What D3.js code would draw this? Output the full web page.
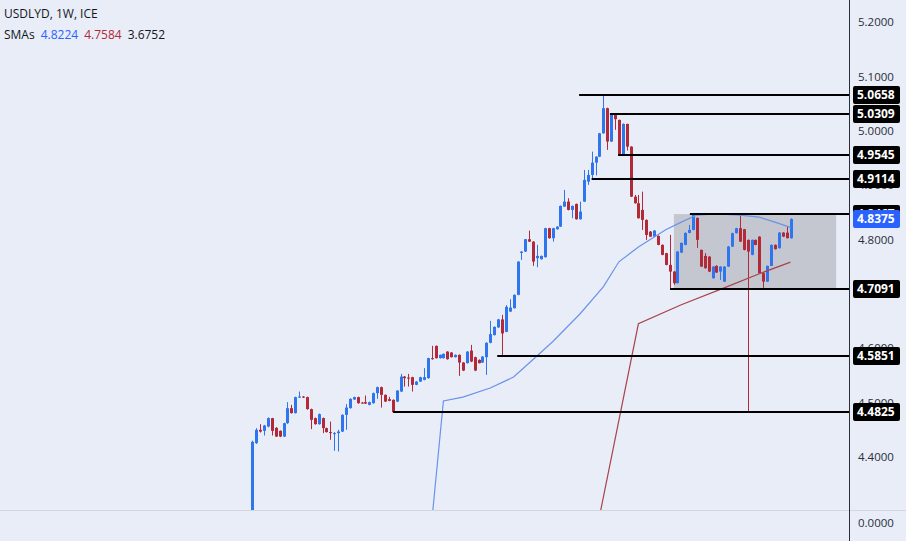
<!DOCTYPE html>
<html><head><meta charset="utf-8">
<script src="https://cdn.jsdelivr.net/npm/d3@7"></script>
<style>
html,body{margin:0;padding:0;background:#e9edf8;}
svg{display:block;}
text{font-family:"Open Sans","Noto Sans",sans-serif;}
</style></head><body>
<svg id="chart" width="906" height="541"></svg>
<script>
// ---- data (weekly USDLYD candles) ----
const opens = [4.25,4.4255,4.4500,4.4481,4.4560,4.4715,4.4536,4.4481,4.4376,4.4622,
4.4898,4.4807,4.5093,4.5112,4.5101,4.4880,4.4715,4.4604,4.4715,4.4531,
4.4458,4.4421,4.4439,4.4468,4.4775,4.4898,4.5057,4.5101,4.5001,4.5009,
4.4959,4.4990,4.5174,4.5284,4.5143,4.5064,4.5051,4.5020,4.5204,4.5479,
4.5461,4.5468,4.5327,4.5387,4.5419,4.5450,4.5818,4.6044,4.5818,4.5818,
4.5939,4.5921,4.5836,4.5879,4.5737,4.5726,4.5957,4.5836,4.5786,4.5737,
4.5836,4.6100,4.6242,4.6383,4.6530,4.6302,4.6675,4.6737,4.6982,4.7754,
4.7778,4.8005,4.7961,4.7656,4.7638,4.7675,4.8208,4.8024,4.8189,4.8237,
4.8605,4.8697,4.8544,4.8654,4.8373,4.8697,4.9064,4.9188,4.9414,4.9524,
4.9953,5.0415,4.9801,5.0309,5.0199,4.9545,5.0125,4.9708,4.8788,4.8667,
4.8544,4.8360,4.8145,4.8053,4.8066,4.7901,4.7748,4.7533,4.7410,4.7197,
4.7759,4.7901,4.8121,4.8176,4.8397,4.7809,4.7698,4.7685,4.7288,4.7515,
4.7410,4.7226,4.7502,4.7870,4.8116,4.8208,4.8189,4.7993,4.7717,4.7993,
4.8053,4.7380,4.7226,4.7515,4.7901,4.7840,4.8127,4.8127,4.8024];
const highs = [4.4300,4.4531,4.4604,4.4590,4.4730,4.4720,4.4550,4.4490,4.4630,4.5009,
4.4959,4.5110,4.5204,4.5120,4.5110,4.4890,4.4725,4.4800,4.4725,4.4540,
4.4652,4.4460,4.4500,4.4785,4.4972,4.5080,4.5110,4.5110,4.5010,4.5130,
4.5020,4.5185,4.5295,4.5295,4.5150,4.5106,4.5060,4.5230,4.5529,4.5490,
4.5529,4.5475,4.5395,4.5475,4.5634,4.5825,4.6044,4.6050,4.5885,4.5905,
4.5945,4.5930,4.5885,4.5885,4.5745,4.5945,4.6062,4.5845,4.5795,4.5855,
4.6110,4.6504,4.6400,4.6540,4.6614,4.6793,4.6902,4.6990,4.7600,4.7785,
4.8010,4.8163,4.7970,4.7901,4.7705,4.8215,4.8215,4.8215,4.8245,4.8625,
4.8912,4.8759,4.8625,4.8662,4.8697,4.9279,4.9279,4.9616,4.9530,4.9960,
5.0658,5.0425,5.0309,5.0315,5.0205,5.0135,5.0130,4.9715,4.8820,4.8820,
4.8880,4.8370,4.8155,4.8175,4.8075,4.7910,4.7755,4.8084,4.7420,4.7785,
4.7945,4.8130,4.8268,4.8470,4.8405,4.7815,4.7750,4.7695,4.7510,4.7525,
4.7510,4.7510,4.7880,4.8125,4.8215,4.8470,4.8195,4.8000,4.8000,4.8000,
4.8060,4.7390,4.7520,4.7910,4.7910,4.8135,4.8135,4.8250,4.8390];
const lows = [4.2500,4.4240,4.4450,4.4395,4.4545,4.4395,4.4370,4.4365,4.4370,4.4610,
4.4800,4.4800,4.5085,4.5085,4.4870,4.4512,4.4595,4.4595,4.4439,4.4450,
4.4316,4.4114,4.4101,4.4460,4.4500,4.4890,4.5050,4.4980,4.4980,4.4975,
4.4950,4.4980,4.5069,4.4909,4.5010,4.5025,4.4825,4.5010,4.5195,4.5295,
4.5295,4.5204,4.5320,4.5380,4.5410,4.5440,4.5790,4.5810,4.5810,4.5810,
4.5790,4.5830,4.5830,4.5492,4.5580,4.5720,4.5745,4.5580,4.5720,4.5730,
4.5511,4.6090,4.6235,4.6375,4.5851,4.6295,4.6665,4.6730,4.6975,4.7625,
4.7770,4.7955,4.7515,4.7491,4.7630,4.7668,4.8015,4.7961,4.8180,4.8230,
4.8598,4.8535,4.8391,4.8365,4.8365,4.8690,4.9004,4.9114,4.9180,4.9515,
4.9945,4.9648,4.9795,5.0017,4.9545,4.9540,4.9635,4.8780,4.8660,4.8385,
4.8176,4.7993,4.8045,4.8045,4.7895,4.7710,4.7525,4.7091,4.7166,4.7190,
4.7750,4.7895,4.8115,4.8170,4.7846,4.7495,4.7465,4.7400,4.7280,4.7385,
4.7257,4.7220,4.7495,4.7860,4.8110,4.7955,4.7800,4.4825,4.7710,4.7895,
4.7375,4.7110,4.7220,4.7510,4.7815,4.7835,4.8045,4.8020,4.8015];
const closes = [4.4280,4.4500,4.4468,4.4579,4.4715,4.4481,4.4376,4.4376,4.4622,4.4898,
4.4807,4.5101,4.5112,4.5093,4.4880,4.4683,4.4604,4.4788,4.4531,4.4458,
4.4439,4.4439,4.4468,4.4775,4.4909,4.5069,4.5101,4.4990,4.4990,4.4983,
4.5009,4.5174,4.5284,4.5143,4.5020,4.5033,4.4825,4.5222,4.5479,4.5450,
4.5442,4.5327,4.5387,4.5468,4.5468,4.5818,4.5799,4.5818,4.5879,4.5897,
4.5799,4.5836,4.5879,4.5737,4.5590,4.5939,4.5755,4.5590,4.5726,4.5847,
4.6100,4.6260,4.6394,4.6530,4.6273,4.6762,4.6748,4.6982,4.7594,4.7778,
4.8005,4.7961,4.7594,4.7698,4.7698,4.8208,4.8024,4.8208,4.8237,4.8618,
4.8697,4.8544,4.8618,4.8373,4.8513,4.9096,4.9188,4.9414,4.9524,4.9953,
5.0415,4.9801,5.0300,5.0213,4.9545,5.0125,4.9708,4.8788,4.8667,4.8391,
4.8360,4.8084,4.8053,4.8164,4.7901,4.7717,4.7533,4.7410,4.7197,4.7778,
4.7938,4.8121,4.8176,4.8452,4.7993,4.7502,4.7472,4.7410,4.7502,4.7392,
4.7502,4.7502,4.7870,4.8116,4.8208,4.7961,4.7809,4.7778,4.7993,4.7901,
4.7380,4.7226,4.7515,4.7901,4.7822,4.8127,4.8053,4.8024,4.8375];

// SMA lines (candle index, value)
const smaFastIdx = [46,49,54,61,67,71,77,84,90,94,99,106,110,114,119,125,130,134,138];
const smaFastVal = [4.280,4.503,4.510,4.527,4.547,4.573,4.612,4.663,4.713,4.759,4.786,4.818,4.832,4.845,4.847,4.845,4.841,4.832,4.8224];
const smaSlowIdx = [89,99,110,121,130,138];
const smaSlowVal = [4.290,4.645,4.680,4.711,4.737,4.7584];

// horizontal levels drawn on the chart
const levelValues = [5.0658,5.0309,4.9545,4.9114,4.8467,4.7091,4.5851,4.4825];
const levelLabels = ["5.0658","5.0309","4.9545","4.9114","4.8467","4.7091","4.5851","4.4825"];
const levelStart  = [83.8,91.7,93.8,87.0,112.2,107.1,62.8,36.1];
const boxIdx = [108.1,149.7];
const boxVals = [4.8467,4.7091];

const yTicks = [4.4,4.5,4.6,4.7,4.8,4.9,5.0,5.1,5.2];
const lowerPaneTicks = [0];
const lastPrice = 4.8375;
const titleText = "USDLYD, 1W, ICE";
const smaLegend = ["4.8224","4.7584","3.6752"];

// ---- drawing ----
const W = 906, H = 541, plotR = 849, plotB = 510;
const BLUE = "#2f76ee", RED = "#b22a38";
const svg = d3.select("#chart");
const x = d3.scaleLinear().domain([0, closes.length - 1]).range([252.3, 790.5]);
const y = d3.scaleLinear().domain([4.4, 5.2]).range([457, 22]);

svg.append("rect").attr("width", W).attr("height", H).attr("fill", "#e9edf8");

svg.append("defs").append("clipPath").attr("id", "clip")
  .append("rect").attr("x", 0).attr("y", 0).attr("width", plotR).attr("height", plotB);

const plot = svg.append("g").attr("clip-path", "url(#clip)");

// box
plot.append("rect")
  .attr("x", x(boxIdx[0])).attr("width", x(boxIdx[1]) - x(boxIdx[0]))
  .attr("y", y(boxVals[0])).attr("height", y(boxVals[1]) - y(boxVals[0]))
  .attr("fill", "#c4c7cf");

// candles
const idx = d3.range(closes.length);
const cg = plot.append("g");
idx.forEach(i => {
  const up = closes[i] >= opens[i];
  const col = up ? BLUE : RED;
  const cx = Math.round(x(i));
  cg.append("line")
    .attr("x1", cx + 0.5).attr("x2", cx + 0.5)
    .attr("y1", y(highs[i])).attr("y2", y(lows[i]))
    .attr("stroke", col).attr("stroke-width", 1);
  const top = y(Math.max(opens[i], closes[i]));
  const bot = y(Math.min(opens[i], closes[i]));
  cg.append("rect")
    .attr("x", cx - 1).attr("width", 3)
    .attr("y", top).attr("height", Math.max(1, bot - top))
    .attr("fill", col);
});

// SMAs
const line = d3.line().x(d => x(d[0])).y(d => y(d[1]));
plot.append("path").datum(d3.zip(smaFastIdx, smaFastVal))
  .attr("d", line).attr("fill", "none").attr("stroke", "#6a93ea").attr("stroke-width", 1.2);
plot.append("path").datum(d3.zip(smaSlowIdx, smaSlowVal))
  .attr("d", line).attr("fill", "none").attr("stroke", "#a8434d").attr("stroke-width", 1.2);

// level lines
levelValues.forEach((v, k) => {
  const yy = Math.round(y(v));
  plot.append("line")
    .attr("x1", x(levelStart[k])).attr("x2", plotR)
    .attr("y1", yy).attr("y2", yy)
    .attr("stroke", "#000").attr("stroke-width", 2.2);
});

// separator for lower pane
svg.append("line").attr("x1", 0).attr("x2", W).attr("y1", plotB + 0.5).attr("y2", plotB + 0.5)
  .attr("stroke", "#d3d6de").attr("stroke-width", 1);

// price axis
const axisG = svg.append("g").attr("transform", `translate(${plotR},0)`)
  .call(d3.axisRight(y).tickValues(yTicks).tickFormat(d3.format(".4f")).tickSize(0).tickPadding(9));
axisG.select(".domain").remove();
axisG.selectAll("text").attr("fill", "#2a2e39").style("font-size", "11.5px")
  .style("font-family", '"Open Sans","Noto Sans",sans-serif');

const yLow = d3.scaleLinear().domain([0, 1]).range([523, 512]);
const axisLow = svg.append("g").attr("transform", `translate(${plotR},0)`)
  .call(d3.axisRight(yLow).tickValues(lowerPaneTicks).tickFormat(d3.format(".4f")).tickSize(0).tickPadding(9));
axisLow.select(".domain").remove();
axisLow.selectAll("text").attr("fill", "#2a2e39").style("font-size", "11.5px")
  .style("font-family", '"Open Sans","Noto Sans",sans-serif');

svg.append("line").attr("x1", plotR + 0.5).attr("x2", plotR + 0.5).attr("y1", 0).attr("y2", H)
  .attr("stroke", "#2a2e39").attr("stroke-width", 1);

// price labels
function priceLabel(v, txt, fill) {
  const yy = Math.round(y(v));
  svg.append("rect").attr("x", 853).attr("y", yy - 9).attr("width", 47).attr("height", 18)
    .attr("rx", 2).attr("fill", fill);
  svg.append("text").attr("x", 857).attr("y", yy).attr("dy", "0.36em")
    .attr("fill", "#fff").style("font-size", "12px").style("font-weight", "bold").text(txt);
}
levelValues.forEach((v, k) => priceLabel(v, levelLabels[k], "#000"));
priceLabel(lastPrice, d3.format(".4f")(lastPrice), "#2962ff");

// legend
svg.append("text").attr("x", 4).attr("y", 18).attr("fill", "#131722")
  .style("font-size", "12px").text(titleText);
const lg = svg.append("text").attr("x", 4).attr("y", 39).style("font-size", "12px");
lg.append("tspan").attr("fill", "#131722").text("SMAs");
const legCols = ["#2962ff", "#b22833", "#131722"];
smaLegend.forEach((t, k) => lg.append("tspan").attr("dx", 6).attr("fill", legCols[k]).text(t));
</script>
</body></html>
